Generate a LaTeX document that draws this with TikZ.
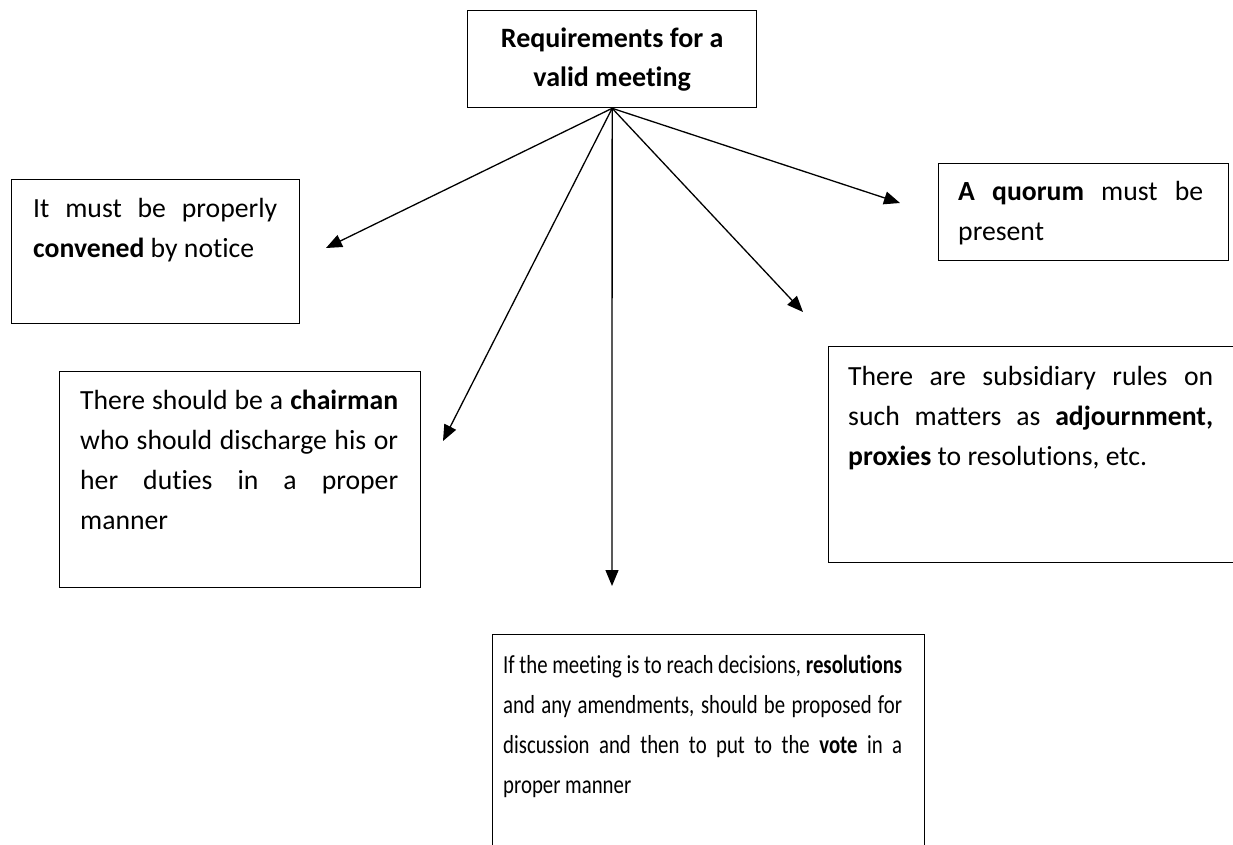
\documentclass[tikz,border=0pt]{standalone}
\usepackage{fontspec}
\setmainfont{Carlito}[Ligatures={NoCommon}]
\newfontfamily\narrowfont{Carlito}[FakeStretch=0.8, Ligatures={NoCommon}]
\usetikzlibrary{arrows.meta}
\begin{document}
\begin{tikzpicture}[x=1pt,y=-1pt,
  frame/.style={draw, line width=1.3pt, rectangle, inner sep=0pt, anchor=north west},
  body/.style={anchor=north west, inner sep=0pt, align=justify,
               font=\fontsize{27.7}{40}\selectfont},
  link/.style={line width=1.3pt, -{Triangle[length=16pt,width=13pt]}}]
\useasboundingbox (0,0) rectangle (1233,845);
\clip (0,0) rectangle (1233,845);

% heading box
\node[frame, minimum width=289pt, minimum height=97pt, align=center,
      font=\bfseries\fontsize{28}{39}\selectfont] (top) at (467,10)
  {Requirements for a\\valid meeting};

% requirement boxes
\node[frame, minimum width=288pt, minimum height=144pt] (convene) at (11,179) {};
\node[body, text width=244pt] (conveneT) at (33,189)
  {\strut It must be properly\linebreak \textbf{convened} by notice};

\node[frame, minimum width=290pt, minimum height=97pt] (quorum) at (938,163) {};
\node[body, text width=245pt] (quorumT) at (958,172)
  {\strut\textbf{A quorum} must be\linebreak present};

\node[frame, minimum width=361pt, minimum height=216pt] (chair) at (59,371) {};
\node[body, text width=318pt] (chairT) at (80,381)
  {\strut There should be a \textbf{chairman}\linebreak who should discharge his or\linebreak
   her duties in a proper\linebreak manner};

\node[frame, minimum width=420pt, minimum height=216pt] (subs) at (828,346) {};
\node[body, text width=365pt] (subsT) at (848,357)
  {\strut There are subsidiary rules on\linebreak such matters as \textbf{adjournment,}\linebreak
   \textbf{proxies} to resolutions, etc.};

\node[frame, minimum width=432pt, minimum height=240pt] (resol) at (492,634) {};
\node[body, text width=399pt, font=\narrowfont\fontsize{26}{40}\selectfont] (resolT) at (503,645)
  {\strut If the meeting is to reach decisions, \textbf{resolutions}\linebreak
   and any amendments, should be proposed for\linebreak
   discussion and then to put to the \textbf{vote} in a\linebreak proper manner};

% arrow tips
\coordinate (tipConvene) at (326,248);
\coordinate (tipChair) at (443,441);
\coordinate (tipResol) at (612,586);
\coordinate (tipSubs) at (803,312);
\coordinate (tipQuorum) at (900,203);

% connectors
\draw[link] (top.south) -- (tipConvene);
\draw[link] (top.south) -- (tipChair);
\draw[link] (top.south) -- (tipResol);
\draw[link] (top.south) -- (tipSubs);
\draw[link] (top.south) -- (tipQuorum);
\end{tikzpicture}
\end{document}
